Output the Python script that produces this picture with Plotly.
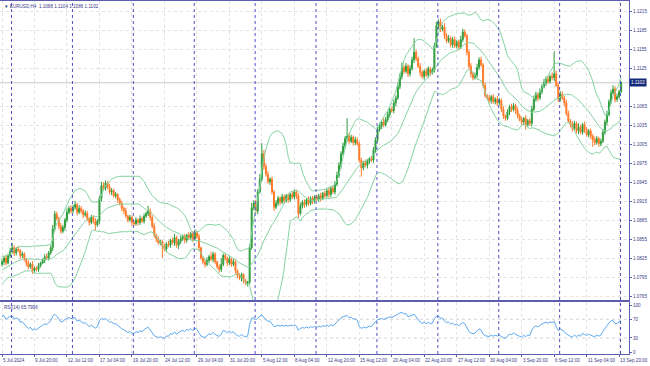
import numpy as np
import pandas as pd
import plotly.graph_objects as go

# ---------------- data (prices in pips: 1 pip = 0.0001) ----------------
first_open_pips = 10816

close_pips = [
    10820, 10826, 10818, 10830, 10836,
    10842, 10834, 10840, 10838, 10830, 10832, 10824, 10818, 10812, 10816, 10806, 10810, 10808, 10814, 10818, 10822, 10828, 10826, 10834, 10842, 10872, 10895, 10888, 10876, 10868, 10874, 10886, 10898, 10904, 10900,
    10906, 10910, 10898, 10904, 10900, 10894, 10896, 10888, 10882, 10890, 10884, 10878, 10884, 10920, 10940, 10936, 10944, 10938, 10930, 10932, 10924, 10926, 10918, 10912, 10904, 10900, 10892, 10886, 10890, 10882,
    10880, 10886, 10882, 10888, 10884, 10892, 10896, 10900, 10890, 10876, 10862, 10856, 10850, 10852, 10844, 10840, 10848, 10846, 10854, 10850, 10858, 10846, 10852, 10856, 10860, 10854, 10862, 10858, 10864, 10856,
    10866, 10860, 10842, 10826, 10820, 10816, 10822, 10828, 10824, 10832, 10820, 10812, 10808, 10816, 10830, 10826, 10818, 10824, 10816, 10820, 10806, 10798, 10794, 10800, 10790, 10786, 10788, 10842, 10905, 10912,
    10900, 10930, 10950, 10990, 10970, 10958, 10946, 10950, 10930, 10906, 10912, 10920, 10914, 10922, 10916, 10924, 10918, 10926, 10922, 10930, 10924, 10896, 10908, 10914, 10910, 10918, 10912, 10920, 10916, 10922,
    10918, 10924, 10920, 10928, 10924, 10932, 10926, 10936, 10930, 10942, 10956, 10972, 10990, 11002, 11014, 11018, 11010, 11016, 11008, 11012, 11006, 10980, 10968, 10976, 10972, 10978, 10982, 10980, 10996, 11012,
    11028, 11034, 11040, 11036, 11044, 11052, 11060, 11058, 11070, 11078, 11096, 11112, 11126, 11120, 11128, 11116, 11124, 11138, 11150, 11140, 11128, 11118, 11112, 11120, 11114, 11124, 11118, 11122, 11160, 11192,
    11198, 11186, 11190, 11176, 11168, 11172, 11162, 11170, 11160, 11166, 11158, 11170, 11182, 11176, 11150, 11128, 11116, 11110, 11114, 11126, 11138, 11130, 11098, 11082, 11078, 11074, 11080, 11072, 11076, 11070,
    11074, 11060, 11050, 11046, 11056, 11064, 11060, 11066, 11058, 11050, 11044, 11040, 11046, 11036, 11042, 11038, 11060, 11076, 11084, 11078, 11088, 11096, 11102, 11108, 11104, 11112, 11110, 11116, 11098, 11076,
    11084, 11078, 11070, 11054, 11042, 11036, 11030, 11038, 11026, 11032, 11024, 11036, 11028, 11020, 11026, 11018, 11012, 11008, 11014, 11006, 11010, 11024, 11040, 11052, 11072, 11086, 11092, 11076, 11080, 11088,
    11102,
]

upper_wick_pips = [
    4, 3, 5, 3, 6,
    8, 4, 3, 5, 2, 4, 3, 2, 4, 3, 5, 2, 3, 4, 2, 3, 4, 5, 3, 4, 6, 5, 4, 3, 5, 4, 3, 6, 4, 5,
    4, 6, 3, 5, 4, 3, 5, 4, 2, 4, 3, 5, 3, 4, 6, 5, 4, 3, 5, 4, 3, 4, 2, 3, 4, 3, 5, 2, 4, 3,
    3, 4, 2, 5, 3, 4, 3, 8, 4, 3, 5, 2, 4, 3, 2, 4, 3, 5, 2, 4, 6, 3, 4, 5, 3, 4, 2, 5, 3, 4,
    5, 3, 4, 2, 3, 4, 5, 3, 8, 4, 3, 2, 4, 10, 3, 4, 2, 5, 3, 4, 3, 2, 4, 3, 2, 3, 2, 6, 8, 5,
    6, 5, 8, 17, 6, 4, 5, 3, 4, 3, 5, 4, 3, 5, 4, 3, 4, 3, 5, 4, 3, 4, 5, 3, 4, 2, 5, 3, 4, 3,
    4, 3, 5, 2, 4, 3, 5, 3, 4, 5, 6, 5, 4, 6, 4, 28, 5, 4, 3, 5, 4, 3, 4, 3, 5, 4, 3, 4, 5, 4,
    4, 5, 3, 6, 4, 5, 3, 4, 5, 4, 6, 5, 8, 4, 5, 3, 6, 5, 22, 4, 3, 5, 4, 3, 5, 4, 3, 4, 5, 6,
    4, 5, 3, 6, 4, 5, 3, 4, 5, 3, 4, 6, 5, 4, 3, 4, 5, 3, 4, 6, 4, 5, 3, 4, 2, 5, 3, 4, 3, 5,
    4, 3, 5, 2, 4, 3, 5, 4, 3, 5, 3, 4, 2, 5, 3, 4, 6, 5, 4, 3, 5, 4, 6, 4, 5, 3, 6, 35, 5, 4,
    5, 4, 3, 5, 4, 3, 5, 4, 3, 6, 4, 3, 5, 4, 3, 4, 3, 5, 4, 3, 4, 5, 4, 6, 4, 5, 6, 4, 5, 3,
    2,
]

lower_wick_pips = [
    3, 5, 4, 2, 4,
    3, 5, 4, 3, 5, 4, 3, 5, 4, 3, 5, 4, 3, 4, 3, 2, 4, 3, 4, 3, 5, 4, 3, 5, 4, 3, 5, 4, 3, 4,
    3, 4, 5, 3, 4, 5, 3, 4, 5, 3, 4, 8, 3, 4, 5, 3, 4, 3, 4, 5, 3, 4, 5, 3, 4, 5, 3, 4, 3, 5,
    4, 3, 5, 4, 3, 4, 3, 4, 5, 3, 4, 5, 3, 4, 18, 4, 5, 3, 4, 3, 5, 4, 6, 4, 3, 5, 4, 3, 4, 5,
    3, 4, 5, 3, 4, 5, 3, 4, 3, 5, 4, 3, 5, 4, 3, 4, 5, 3, 4, 3, 5, 4, 3, 5, 4, 3, 5, 4, 3, 4,
    4, 5, 3, 4, 5, 4, 3, 5, 4, 6, 3, 4, 5, 3, 4, 3, 5, 4, 3, 4, 5, 7, 3, 4, 5, 3, 4, 3, 5, 4,
    3, 4, 5, 3, 4, 3, 5, 4, 3, 4, 3, 4, 5, 3, 4, 5, 4, 3, 5, 4, 3, 4, 14, 4, 3, 5, 4, 3, 4, 5,
    4, 3, 5, 4, 3, 4, 5, 3, 4, 5, 3, 4, 5, 4, 3, 5, 4, 3, 5, 4, 3, 6, 4, 5, 3, 4, 5, 3, 4, 3,
    5, 4, 3, 5, 4, 3, 4, 5, 3, 4, 5, 3, 4, 3, 5, 4, 6, 4, 3, 5, 4, 3, 5, 4, 3, 4, 5, 3, 4, 5,
    3, 4, 5, 4, 3, 5, 4, 3, 5, 4, 3, 5, 4, 8, 3, 4, 5, 3, 4, 5, 3, 4, 3, 5, 4, 3, 4, 5, 3, 4,
    4, 3, 5, 4, 3, 4, 5, 3, 4, 5, 3, 4, 5, 3, 4, 5, 11, 4, 3, 5, 4, 3, 4, 5, 3, 4, 3, 5, 4, 3,
    2,
]

# earlier H4 closes (before the first visible bar), used only to warm up the indicators
pre_close_pips = [10742, 10750, 10748, 10758, 10766, 10775, 10784, 10790, 10788, 10796,
                  10800, 10797, 10804, 10809, 10806, 10812, 10808, 10814, 10818, 10811,
                  10815, 10820, 10816, 10812, 10818]

price_ticks = [1.0765, 1.0795, 1.0825, 1.0855, 1.0885, 1.0915, 1.0945, 1.0975,
               1.1005, 1.1035, 1.1065, 1.1125, 1.1155, 1.1185, 1.1215]
rsi_ticks = [0, 30, 70, 100]
rsi_levels = [30, 70]
time_tick_bars = [0, 16, 32, 48, 64, 80, 96, 112, 128, 144, 160, 176, 192, 208, 224, 240, 256, 272, 288, 304]
time_tick_labels = ["5 Jul 2024", "9 Jul 20:00", "12 Jul 12:00", "17 Jul 04:00", "19 Jul 20:00",
                    "24 Jul 12:00", "29 Jul 04:00", "31 Jul 20:00", "5 Aug 12:00", "8 Aug 04:00",
                    "12 Aug 20:00", "15 Aug 12:00", "20 Aug 04:00", "22 Aug 20:00", "27 Aug 12:00",
                    "30 Aug 04:00", "3 Sep 20:00", "6 Sep 12:00", "11 Sep 04:00", "13 Sep 20:00"]
week_start_bars = [5, 35, 65, 95, 125, 155, 185, 215, 245, 275, 305]
title_text = "▼ EURUSD,H4  1.1088 1.1104 1.1086 1.1102"
rsi_text = "RSI(14) 65.7996"
bid_price = 1.1102

assert len(close_pips) == len(upper_wick_pips) == len(lower_wick_pips), (
    len(close_pips), len(upper_wick_pips), len(lower_wick_pips))

# ---------------- derived ----------------
close = np.array(close_pips) / 10000.0
opn = np.concatenate([[first_open_pips / 10000.0], close[:-1]])
high = np.maximum(opn, close) + np.array(upper_wick_pips) / 10000.0
low = np.minimum(opn, close) - np.array(lower_wick_pips) / 10000.0
n = len(close)
bars = np.arange(n)

allc = pd.Series(np.concatenate([np.array(pre_close_pips) / 10000.0, close]))
npre = len(pre_close_pips)
mid = allc.rolling(20).mean()
sd = allc.rolling(20).std(ddof=0)
bb_mid = mid.values[npre:]
bb_up = (mid + 2 * sd).values[npre:]
bb_lo = (mid - 2 * sd).values[npre:]

def rsi_wilder(c, p=14):
    c = np.asarray(c)
    d = np.diff(c)
    g = np.where(d > 0, d, 0.0)
    l = np.where(d < 0, -d, 0.0)
    out = np.full(len(c), np.nan)
    ag = g[:p].mean()
    al = l[:p].mean()
    out[p] = 100 - 100 / (1 + ag / al) if al > 0 else 100
    for i in range(p + 1, len(c)):
        ag = (ag * (p - 1) + g[i - 1]) / p
        al = (al * (p - 1) + l[i - 1]) / p
        out[i] = 100 - 100 / (1 + ag / al) if al > 0 else 100
    return out

rsi = rsi_wilder(allc.values)[npre:]

# ---------------- styling ----------------
FRAME = "#5d5db0"
TXT = "#3b3b88"
GRID = "#e2e2e2"
SEP = "#5050c0"
BULL = "#2f9e3e"
BEAR = "#ff7a2a"
BAND = "#86d3a2"
RSI_C = "#5aa9f0"
FONT = "Liberation Sans, DejaVu Sans, sans-serif"
FS = 4.6

fig = go.Figure()
fig.add_trace(go.Candlestick(
    x=bars, open=opn, high=high, low=low, close=close,
    increasing=dict(line=dict(color=BULL, width=1), fillcolor=BULL),
    decreasing=dict(line=dict(color=BEAR, width=1), fillcolor=BEAR),
    whiskerwidth=0, xaxis="x", yaxis="y", showlegend=False, hoverinfo="skip"))
for band in (bb_up, bb_mid, bb_lo):
    fig.add_trace(go.Scatter(x=bars, y=band, mode="lines", line=dict(color=BAND, width=1),
                             xaxis="x", yaxis="y", showlegend=False, hoverinfo="skip"))
fig.add_trace(go.Scatter(x=bars, y=rsi, mode="lines", line=dict(color=RSI_C, width=1),
                         xaxis="x2", yaxis="y2", showlegend=False, hoverinfo="skip"))

H, W = 366, 650
mt, mb, ml, mr = 1, 12, 0, 21
ph = H - mt - mb
main_bottom_px = 300
rsi_top_px = 301.5
dom_main = [(H - mb - main_bottom_px) / ph, 1]
dom_rsi = [0, (H - mb - rsi_top_px) / ph]

xr = [-0.985, 308.87]
axis_common = dict(showline=True, linecolor=FRAME, linewidth=1, mirror=True, zeroline=False)

fig.update_layout(
    width=W, height=H,
    margin=dict(l=ml, r=mr, t=mt, b=mb),
    paper_bgcolor="white", plot_bgcolor="white",
    font=dict(family=FONT, size=FS, color=TXT),
    xaxis=dict(domain=[0, 1], anchor="y", range=xr, rangeslider=dict(visible=False),
               tickvals=time_tick_bars, showticklabels=False, ticks="",
               showgrid=True, gridcolor=GRID, griddash="dot", gridwidth=1, **axis_common),
    yaxis=dict(domain=dom_main, anchor="x", side="right", range=[1.075980, 1.123075],
               tickvals=price_ticks, ticktext=[f"{v:.4f}" for v in price_ticks],
               ticks="outside", ticklen=2, tickcolor=FRAME,
               showgrid=True, gridcolor=GRID, griddash="dot", gridwidth=1, **axis_common),
    xaxis2=dict(domain=[0, 1], anchor="y2", range=xr, matches="x",
                tickvals=time_tick_bars, showticklabels=False, ticks="outside", ticklen=2,
                tickcolor=FRAME,
                showgrid=True, gridcolor=GRID, griddash="dot", gridwidth=1, **axis_common),
    yaxis2=dict(domain=dom_rsi, anchor="x2", side="right", range=[-4.2, 107.8],
                tickvals=rsi_ticks, ticktext=[str(v) for v in rsi_ticks],
                ticks="outside", ticklen=2, tickcolor=FRAME, showgrid=False, **axis_common),
)

shapes = []
shapes.append(dict(type="line", xref="x", yref="y", x0=xr[0], x1=xr[1], y0=bid_price, y1=bid_price,
                   line=dict(color="#c8c8c8", width=1), layer="below"))
for lv in rsi_levels:
    shapes.append(dict(type="line", xref="x2", yref="y2", x0=xr[0], x1=xr[1], y0=lv, y1=lv,
                       line=dict(color="#d4d4d4", width=1, dash="dot"), layer="below"))
for b in week_start_bars:
    shapes.append(dict(type="line", xref="x", yref="paper", x0=b - 0.3, x1=b - 0.3, y0=0, y1=1,
                       line=dict(color=SEP, width=1, dash="dot"), layer="above"))
fig.update_layout(shapes=shapes)

ann = []
for b, t in zip(time_tick_bars, time_tick_labels):
    ann.append(dict(x=b, xref="x2", y=0, yref="paper", yshift=-3, text=t, showarrow=False,
                    xanchor="left", yanchor="top", font=dict(size=FS, color=TXT, family=FONT),
                    borderpad=0))
ann.append(dict(x=0, xref="paper", y=1, yref="paper", xshift=2, yshift=-1, text=title_text,
                showarrow=False, xanchor="left", yanchor="top",
                font=dict(size=FS, color=TXT, family=FONT)))
ann.append(dict(x=0, xref="paper", y=dom_rsi[1], yref="paper", xshift=2, yshift=-1, text=rsi_text,
                showarrow=False, xanchor="left", yanchor="top",
                font=dict(size=FS, color=TXT, family=FONT)))
ann.append(dict(x=1, xref="paper", y=bid_price, yref="y", xshift=0, text=f"{bid_price:.4f}",
                showarrow=False, xanchor="left", yanchor="middle", bgcolor="#142a7c",
                borderpad=1, font=dict(size=FS, color="white", family=FONT)))
fig.update_layout(annotations=ann)

fig.write_html("out.html",
               config={"displayModeBar": False, "staticPlot": True},
               post_script="document.body.style.margin='0';document.body.style.padding='0';"
                           "document.body.style.overflow='hidden';")
